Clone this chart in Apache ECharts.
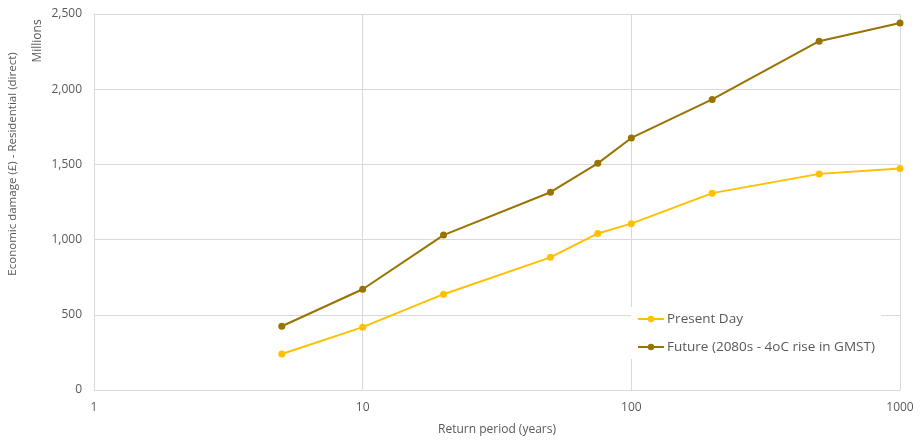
<!DOCTYPE html>
<html>
<head>
<meta charset="utf-8">
<script src="https://cdn.jsdelivr.net/npm/echarts@6/dist/echarts.min.js"></script>
<style>
  html, body { margin: 0; padding: 0; background: #fff; }
  #chart { width: 921px; height: 441px; }
</style>
</head>
<body>
<div id="chart"></div>
<script>
// Return periods (years) and residential damage, £ millions
const returnPeriods = [5, 10, 20, 50, 75, 100, 200, 500, 1000];
const presentDay = [239, 418, 637, 882, 1041, 1106, 1309, 1437, 1472];
const future2080s = [424, 670, 1030, 1315, 1507, 1676, 1932, 2319, 2440];
const seriesNames = ['Present Day', 'Future (2080s - 4oC rise in GMST)'];
const seriesColors = ['#FFC000', '#997300'];
const yTitle = 'Economic damage (£) - Residential (direct)';
const yUnit = 'Millions';
const xTitle = 'Return period (years)';

const FONT = '"Open Sans", "Liberation Sans", sans-serif';
const TEXT = '#595959';
const GRID = '#d9d9d9';

const chart = echarts.init(document.getElementById('chart'), null, { renderer: 'canvas' });

function pairs(xs, ys) { return xs.map((x, i) => [x, ys[i]]); }

chart.setOption({
  animation: false,
  backgroundColor: '#fff',
  grid: { left: 94, right: 21, top: 14, bottom: 50, containLabel: false },
  legend: {
    orient: 'vertical',
    left: 631,
    top: 307,
    backgroundColor: '#fff',
    padding: [5, 6, 5, 6],
    itemWidth: 26,
    itemHeight: 8,
    itemGap: 14,
    textStyle: { fontFamily: FONT, fontSize: 13.5, color: TEXT, padding: [0, 0, 0, -2] },
    data: seriesNames
  },
  xAxis: {
    type: 'log',
    logBase: 10,
    min: 1,
    max: 1000,
    name: xTitle,
    nameLocation: 'middle',
    nameGap: 34,
    nameTextStyle: { fontFamily: FONT, fontSize: 12, color: TEXT },
    axisLine: { show: true, lineStyle: { color: GRID, width: 1 } },
    axisTick: { show: false },
    minorTick: { show: false },
    axisLabel: { fontFamily: FONT, fontSize: 12, color: TEXT, margin: 12, formatter: v => String(v) },
    splitLine: { show: true, lineStyle: { color: GRID, width: 1 } }
  },
  yAxis: {
    type: 'value',
    min: 0,
    max: 2500,
    interval: 500,
    axisLine: { show: true, lineStyle: { color: GRID, width: 1 } },
    axisTick: { show: false },
    axisLabel: {
      fontFamily: FONT, fontSize: 12, color: TEXT, margin: 12,
      formatter: v => v.toLocaleString('en-US')
    },
    splitLine: { show: true, lineStyle: { color: GRID, width: 1 } }
  },
  graphic: [
    {
      type: 'text',
      x: 13,
      y: 164,
      rotation: Math.PI / 2,
      style: { text: yTitle, fill: TEXT, font: '11.5px ' + FONT, align: 'center', verticalAlign: 'middle' }
    },
    {
      type: 'text',
      x: 38,
      y: 41,
      rotation: Math.PI / 2,
      style: { text: yUnit, fill: TEXT, font: '12px ' + FONT, align: 'center', verticalAlign: 'middle' }
    }
  ],
  series: [
    {
      name: seriesNames[0],
      type: 'line',
      data: pairs(returnPeriods, presentDay),
      symbol: 'circle',
      symbolSize: 7,
      color: seriesColors[0],
      lineStyle: { width: 2, color: seriesColors[0] },
      itemStyle: { color: seriesColors[0] },
      z: 3
    },
    {
      name: seriesNames[1],
      type: 'line',
      data: pairs(returnPeriods, future2080s),
      symbol: 'circle',
      symbolSize: 7,
      color: seriesColors[1],
      lineStyle: { width: 2, color: seriesColors[1] },
      itemStyle: { color: seriesColors[1] },
      z: 3
    }
  ]
});
</script>
</body>
</html>
